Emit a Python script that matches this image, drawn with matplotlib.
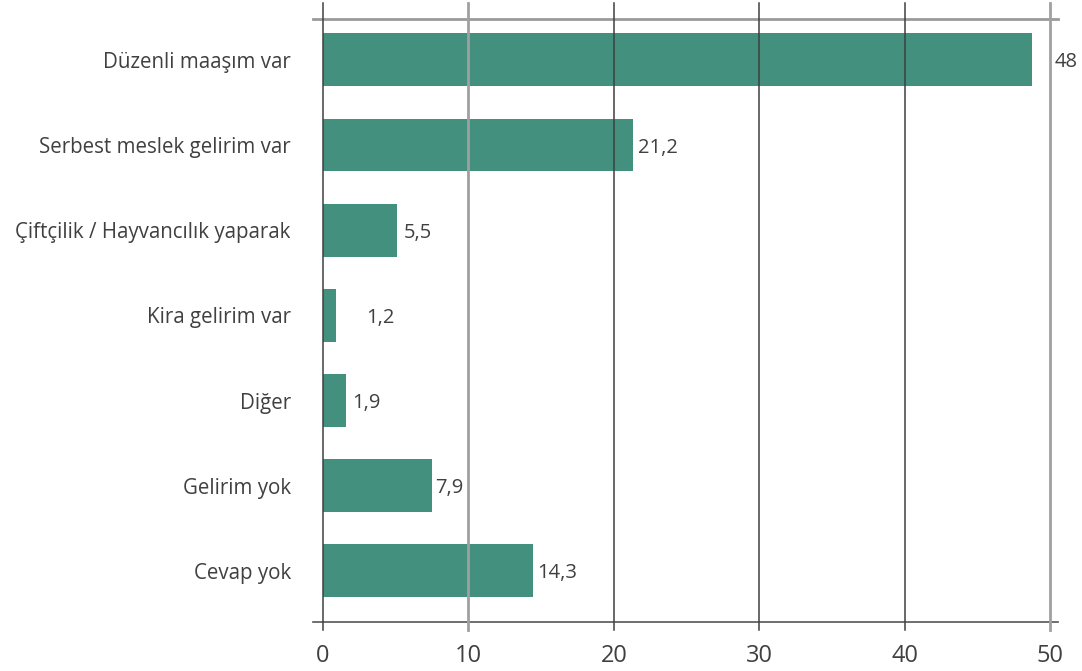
import matplotlib
matplotlib.use("Agg")
import matplotlib.pyplot as plt

categories = ["Düzenli maaşım var", "Serbest meslek gelirim var", "Çiftçilik / Hayvancılık yaparak",
              "Kira gelirim var", "Diğer", "Gelirim yok", "Cevap yok"]
bar_lengths = [48.75, 21.3, 5.07, 0.9, 1.6, 7.5, 14.45]
value_labels = ["48", "21,2", "5,5", "1,2", "1,9", "7,9", "14,3"]
xticks = [0, 10, 20, 30, 40, 50]

# label offsets in pixels from bar end (style, not data)
label_offsets_px = [23, 5, 7, 30, 6, 3, 4]

plt.rcParams['font.family'] = ['Open Sans', 'DejaVu Sans']
W, H = 1082, 671
fig = plt.figure(figsize=(W / 100, H / 100), dpi=100)
ax = fig.add_axes([313 / W, 1 - 622 / H, (1058 - 313) / W, (622 - 19) / H])

bar_color = "#44907F"
text_color = "#404040"
ypos = list(range(len(categories)))
ax.barh(ypos, bar_lengths, height=0.62, color=bar_color, zorder=2)

ax.set_xlim(-0.69, 50.55)
ax.set_ylim(6.6, -0.48)

for sp in ["left", "right"]:
    ax.spines[sp].set_visible(False)
ax.spines["top"].set_color("#9a9a9a")
ax.spines["top"].set_linewidth(2)
ax.spines["bottom"].set_color("#555555")
ax.spines["bottom"].set_linewidth(1.2)

for x in xticks:
    gray = x in (10, 50)
    ax.axvline(x, ymin=-8 / 603, ymax=1 + 16 / 603, clip_on=False,
               color="#a0a0a0" if gray else "#404040",
               lw=2 if gray else 1.1, zorder=3)

ax.set_xticks(xticks)
ax.set_xticklabels([str(t) for t in xticks], fontsize=17, color=text_color)
ax.tick_params(axis="x", length=0, pad=16)
ax.set_yticks(ypos)
ax.set_yticklabels(categories, fontsize=14.8, color=text_color)
ax.tick_params(axis="y", length=0, pad=16)

for y, v, lab, off in zip(ypos, bar_lengths, value_labels, label_offsets_px):
    ax.annotate(lab, xy=(v, y), xytext=(off * 0.72, -1.8), textcoords="offset points",
                va="center", ha="left", fontsize=14.5, color=text_color)

fig.savefig("out.png", dpi=100)
